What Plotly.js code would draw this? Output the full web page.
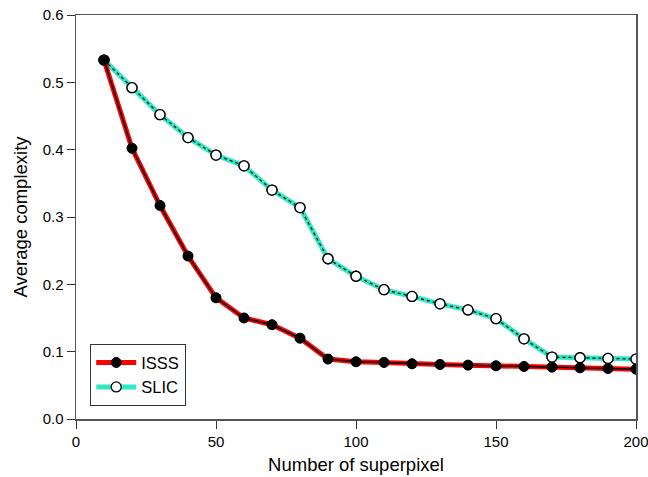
<!DOCTYPE html>
<html><head><meta charset="utf-8">
<script src="https://cdn.plot.ly/plotly-3.0.1.min.js"></script>
<style>html,body{margin:0;padding:0;background:#fff}#c{width:648px;height:477px}</style>
</head><body><div id="c"></div>
<script>
var superpixels = [10,20,30,40,50,60,70,80,90,100,110,120,130,140,150,160,170,180,190,200];
var isss = [0.533,0.402,0.317,0.242,0.180,0.150,0.140,0.120,0.089,0.085,0.084,0.082,0.081,0.080,0.079,0.078,0.077,0.076,0.075,0.074];
var slic = [0.533,0.492,0.452,0.418,0.392,0.376,0.340,0.314,0.238,0.212,0.192,0.182,0.171,0.162,0.149,0.119,0.092,0.091,0.090,0.089];
var xTicks = [0,50,100,150,200];
var yTicks = [0.0,0.1,0.2,0.3,0.4,0.5,0.6];

var cyan = '#30e8c4';
var traces = [
  {x: superpixels, y: slic, mode: 'lines+markers', name: 'SLIC', legendrank: 2,
   line: {color: cyan, width: 5}, marker: {symbol: 'circle', size: 10, color: '#fff', line: {color: '#000', width: 1.3}}},
  {x: superpixels, y: slic, mode: 'lines', showlegend: false, line: {color: '#000', width: 1.2, dash: 'dot'}, hoverinfo: 'skip'},
  {x: superpixels, y: slic, mode: 'markers', showlegend: false, marker: {symbol: 'circle', size: 10, color: '#fff', line: {color: '#000', width: 1.3}}},
  {x: superpixels, y: isss, mode: 'lines+markers', name: 'ISSS', legendrank: 1,
   line: {color: '#ff0000', width: 5}, marker: {symbol: 'circle', size: 10, color: '#000', line: {color: '#000', width: 1}}},
  {x: superpixels, y: isss, mode: 'lines', showlegend: false, line: {color: '#000', width: 1.5}, hoverinfo: 'skip'},
  {x: superpixels, y: isss, mode: 'markers', showlegend: false, marker: {symbol: 'circle', size: 10, color: '#000'}}
];

var layout = {
  width: 648, height: 477,
  margin: {l: 76, r: 12, t: 15, b: 58},
  paper_bgcolor: '#fff', plot_bgcolor: '#fff',
  font: {family: 'Liberation Sans, Arial, sans-serif', color: '#000', size: 15},
  showlegend: true,
  legend: {x: 0.025, y: 0.032, xanchor: 'left', yanchor: 'bottom', bordercolor: '#333', borderwidth: 1.2,
           bgcolor: '#fff', font: {size: 16.5}, traceorder: 'normal', itemwidth: 40},
  xaxis: {range: [0, 200], tickvals: xTicks, ticks: 'outside', ticklen: 8, tickcolor: '#333',
          ticklabeloverflow: 'allow', automargin: false,
          showline: true, linecolor: '#555', linewidth: 1.5, mirror: true, showgrid: false, zeroline: false,
          title: {text: 'Number of superpixel', font: {size: 18.5}, standoff: 9}},
  yaxis: {range: [0, 0.6], tickvals: yTicks, tickformat: '.1f', ticks: 'outside', ticklen: 8, tickcolor: '#333',
          ticklabeloverflow: 'allow', automargin: false,
          showline: true, linecolor: '#555', linewidth: 1.5, mirror: true, showgrid: false, zeroline: false,
          title: {text: 'Average complexity', font: {size: 18.5}, standoff: 10}}
};
Plotly.newPlot('c', traces, layout, {displayModeBar: false, staticPlot: true});
</script></body></html>
